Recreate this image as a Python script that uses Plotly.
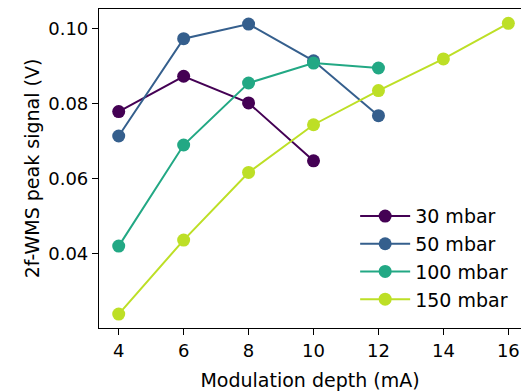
import plotly.graph_objects as go

depth_30 = [4, 6, 8, 10]
signal_30 = [0.0779, 0.0873, 0.0802, 0.0648]
depth_50 = [4, 6, 8, 10, 12]
signal_50 = [0.0714, 0.0973, 0.1012, 0.0914, 0.0768]
depth_100 = [4, 6, 8, 10, 12]
signal_100 = [0.0421, 0.0690, 0.0855, 0.0908, 0.0895]
depth_150 = [4, 6, 8, 10, 12, 14, 16]
signal_150 = [0.0240, 0.0437, 0.0617, 0.0744, 0.0835, 0.0919, 0.1014]
labels = ["30 mbar", "50 mbar", "100 mbar", "150 mbar"]
colors = ["#440154", "#355f8d", "#22a884", "#bddf26"]

series = [(depth_30, signal_30), (depth_50, signal_50), (depth_100, signal_100), (depth_150, signal_150)]

fig = go.Figure()
for (x, y), name, c in zip(series, labels, colors):
    fig.add_trace(go.Scatter(x=x, y=y, name=name, mode="lines+markers",
                             line=dict(color=c, width=2),
                             marker=dict(color=c, size=13)))

font = dict(family="DejaVu Sans", size=18, color="#000000")
tfont = dict(family="DejaVu Sans", size=19, color="#000000")
fig.update_layout(
    width=521, height=391,
    margin=dict(l=99, r=0, t=9, b=63),
    plot_bgcolor="white", paper_bgcolor="white",
    font=font,
    showlegend=True,
    legend=dict(x=0.607, y=0.41, xanchor="left", yanchor="top", itemwidth=50,
                bgcolor="rgba(0,0,0,0)", font=dict(family="DejaVu Sans", size=19, color="#000000"),
                tracegroupgap=0),
)
fig.update_xaxes(range=[3.393, 16.39], tickvals=[4, 6, 8, 10, 12, 14, 16],
                 showgrid=False, zeroline=False, showline=True, linecolor="black",
                 linewidth=1.2, mirror=True, ticks="outside", ticklen=6, tickwidth=1.2,
                 tickcolor="black", title=dict(text="Modulation depth (mA)", font=tfont, standoff=14))
fig.update_yaxes(range=[0.0203, 0.1052], tickvals=[0.04, 0.06, 0.08, 0.10], tickformat=".2f",
                 showgrid=False, zeroline=False, showline=True, linecolor="black",
                 linewidth=1.2, mirror=False, ticks="outside", ticklen=6, tickwidth=1.2,
                 tickcolor="black", title=dict(text="2f-WMS peak signal (V)", font=tfont, standoff=3))
fig.write_html("out.html", config={"displayModeBar": False},
               post_script="document.body.style.margin='0';document.body.style.overflow='hidden';")
